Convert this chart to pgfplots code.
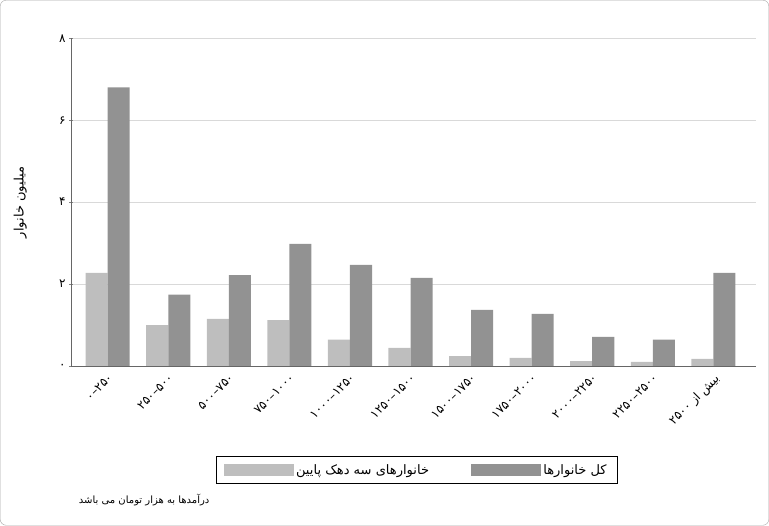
\documentclass[border=0pt]{standalone}
\usepackage{pgfplots}
\pgfplotsset{compat=1.18}
\usepackage{fontspec}
\TeXXeTstate=1
\setmainfont{DejaVu Sans}
\newfontfamily\arabicfont[Script=Arabic]{DejaVu Sans}
\definecolor{lightbar}{HTML}{BEBEBE}
\definecolor{darkbar}{HTML}{929292}
\begin{document}
\begin{tikzpicture}[x=1pt,y=1pt]
\draw[gray!70, rounded corners=6pt] (1,1) rectangle (768,525);
\begin{axis}[at={(72pt,160pt)}, anchor=south west, scale only axis,
  width=683pt, height=327pt,
  ybar=0pt, bar width=22pt,
  xmin=-0.6, xmax=10.7, ymin=0, ymax=8,
  axis x line=bottom, axis y line=left, axis line style={-, gray!80!black},
  ytick={0,2,4,6,8},
  yticklabels={۰,۲,۴,۶,۸},
  yticklabel style={font=\fontsize{12}{14}\selectfont},
  ymajorgrids, grid style={gray!30},
  xtick={0,...,10}, major x tick style={draw=none},
  xticklabels={۰–۲۵۰,۲۵۰–۵۰۰,۵۰۰–۷۵۰,۷۵۰–۱۰۰۰,۱۰۰۰–۱۲۵۰,۱۲۵۰–۱۵۰۰,۱۵۰۰–۱۷۵۰,۱۷۵۰–۲۰۰۰,۲۰۰۰–۲۲۵۰,۲۲۵۰–۲۵۰۰,{۲۵۰۰ {\arabicfont\beginR بیش از\endR}}},
  xticklabel style={rotate=45, anchor=north east, font=\fontsize{12}{14}\selectfont},
  ylabel={\arabicfont\beginR میلیون خانوار\endR},
  ylabel style={font=\fontsize{13}{15}\selectfont, at={(-0.06,0.5)}},
  legend columns=2,
  legend style={at={(0.504,-0.317)}, anchor=center, draw=black, font=\fontsize{13}{15}\selectfont,
    /tikz/every even column/.append style={column sep=40pt}, inner xsep=8pt, inner ysep=6pt},
  legend image code/.code={\fill[#1] (0pt,-6pt) rectangle (70pt,6pt);},
]
\addplot[fill=lightbar, draw=none] coordinates {(0,2.27) (1,1.0) (2,1.15) (3,1.12) (4,0.64) (5,0.44) (6,0.24) (7,0.2) (8,0.12) (9,0.1) (10,0.17)};
\addlegendentry{\arabicfont\beginR خانوارهای سه دهک پایین\endR}
\addplot[fill=darkbar, draw=none] coordinates {(0,6.8) (1,1.74) (2,2.22) (3,2.98) (4,2.47) (5,2.15) (6,1.37) (7,1.27) (8,0.71) (9,0.64) (10,2.27)};
\addlegendentry{\arabicfont\beginR کل خانوارها\endR}
\end{axis}
\node[anchor=west, font=\fontsize{10}{12}\selectfont] at (76,26) {\arabicfont\beginR درآمدها به هزار تومان می باشد\endR};
\end{tikzpicture}
\end{document}
